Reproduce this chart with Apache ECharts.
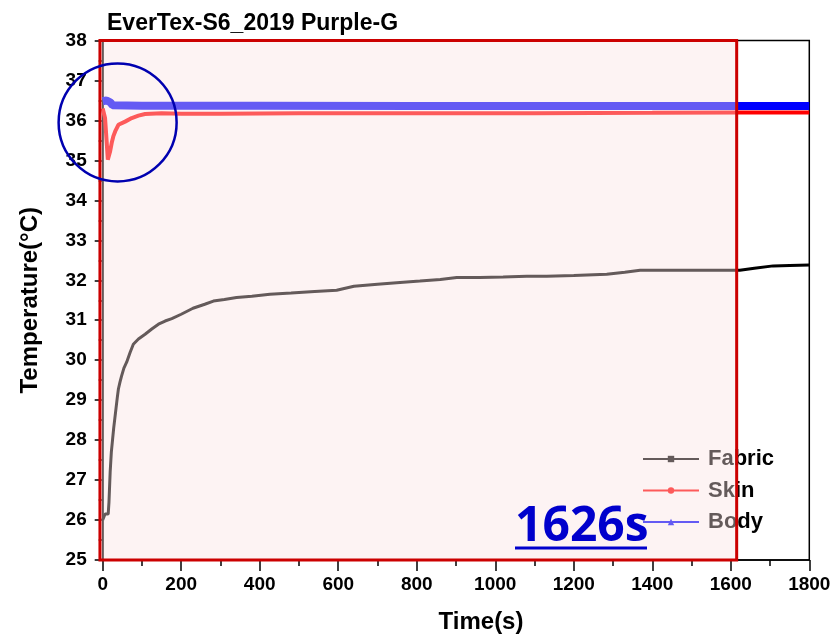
<!DOCTYPE html>
<html><head><meta charset="utf-8">
<script src="https://cdn.jsdelivr.net/npm/echarts@6/dist/echarts.min.js"></script>
<style>html,body{margin:0;padding:0;background:#fff}#c{width:834px;height:639px}</style>
</head><body><div id="c"></div>
<script>
const titleText = 'EverTex-S6_2019 Purple-G';
const seriesNames = ['Fabric', 'Skin', 'Body'];
const xTicks = [0, 200, 400, 600, 800, 1000, 1200, 1400, 1600, 1800];
const yTicks = [25, 26, 27, 28, 29, 30, 31, 32, 33, 34, 35, 36, 37, 38];

const fabricTime = [0, 3, 6, 10, 14, 16, 19, 22, 25, 28, 31, 34, 37, 40, 44, 48, 54, 61, 70, 78, 91, 108, 125, 142, 159, 176, 200, 230, 260, 282, 310, 341, 380, 426, 480, 540, 596, 640, 700, 749, 808, 860, 902, 960, 1020, 1080, 1131, 1200, 1284, 1330, 1369, 1450, 1539, 1623, 1660, 1708, 1750, 1800];
const fabricTemp = [26.0, 26.05, 26.15, 26.15, 26.15, 26.45, 27.2, 27.7, 28.0, 28.3, 28.55, 28.8, 29.05, 29.28, 29.45, 29.6, 29.8, 29.95, 30.2, 30.4, 30.53, 30.65, 30.78, 30.9, 30.98, 31.04, 31.15, 31.3, 31.4, 31.48, 31.52, 31.57, 31.6, 31.65, 31.68, 31.72, 31.75, 31.85, 31.9, 31.94, 31.98, 32.02, 32.07, 32.07, 32.08, 32.1, 32.1, 32.12, 32.15, 32.2, 32.25, 32.25, 32.25, 32.25, 32.3, 32.36, 32.37, 32.38];

const skinTime = [0, 3, 6, 10, 13, 16, 19, 23, 27, 32, 40, 57, 74, 91, 108, 150, 200, 300, 500, 800, 1100, 1400, 1620, 1800];
const skinTemp = [36.3, 36.35, 36.06, 35.48, 35.02, 35.0, 35.23, 35.44, 35.6, 35.73, 35.89, 35.97, 36.06, 36.12, 36.16, 36.18, 36.17, 36.17, 36.18, 36.18, 36.18, 36.19, 36.2, 36.2];

const bodyTime = [0, 5, 10, 15, 20, 25, 100, 400, 800, 1200, 1600, 1800];
const bodyTemp = [36.48, 36.48, 36.5, 36.5, 36.45, 36.38, 36.37, 36.37, 36.36, 36.36, 36.36, 36.36];

const annotationText = '1626s';

const pair = (ts, vs) => ts.map((t, i) => [t, vs[i]]);
const FONT = "'Liberation Sans', Arial, sans-serif";

const chart = echarts.init(document.getElementById('c'), null, {renderer: 'canvas'});
const option = {
  animation: false,
  backgroundColor: '#ffffff',
  title: {
    text: titleText, left: 102, top: 7,
    textStyle: {fontFamily: FONT, fontWeight: 'bold', fontSize: 23, color: '#000'}
  },
  grid: {left: 102.7, right: 24.7, top: 40.5, bottom: 77.5, show: true, borderColor: '#000', borderWidth: 1.5, backgroundColor: 'transparent'},
  legend: {
    orient: 'vertical', left: 637, top: 443, itemWidth: 56, itemHeight: 8, itemGap: 9.5,
    data: seriesNames,
    textStyle: {fontFamily: FONT, fontWeight: 'bold', fontSize: 22, color: '#000', padding: [0, 0, 0, 4]}
  },
  xAxis: {
    type: 'value', min: xTicks[0], max: xTicks[xTicks.length - 1], interval: 200,
    name: 'Time(s)', nameLocation: 'middle', nameGap: 50,
    nameTextStyle: {fontFamily: FONT, fontWeight: 'bold', fontSize: 24, color: '#000', padding: [0, 0, 0, 50]},
    axisLine: {show: true, lineStyle: {color: '#000', width: 1.5}},
    axisTick: {show: true, length: 11, lineStyle: {color: '#000', width: 1.5}},
    minorTick: {show: true, splitNumber: 2, length: 6, lineStyle: {color: '#000', width: 1.5}},
    axisLabel: {fontFamily: FONT, fontWeight: 'bold', fontSize: 19, color: '#000', margin: 15, formatter: v => String(v)},
    splitLine: {show: false}
  },
  yAxis: {
    type: 'value', min: yTicks[0], max: yTicks[yTicks.length - 1], interval: 1,
    name: 'Temperature(°C)', nameLocation: 'middle', nameGap: 60,
    nameTextStyle: {fontFamily: FONT, fontWeight: 'bold', fontSize: 24, color: '#000'},
    axisLine: {show: true, lineStyle: {color: '#000', width: 1.5}},
    axisTick: {show: true, length: 8, lineStyle: {color: '#000', width: 1.5}},
    minorTick: {show: true, splitNumber: 2, length: 4, lineStyle: {color: '#000', width: 1.5}},
    axisLabel: {fontFamily: FONT, fontWeight: 'bold', fontSize: 19, color: '#000', margin: 16, formatter: v => String(v)},
    splitLine: {show: false}
  },
  series: [
    {name: seriesNames[0], type: 'line', data: pair(fabricTime, fabricTemp), symbol: 'rect', symbolSize: 5, showSymbol: false,
     lineStyle: {color: '#000', width: 3}, itemStyle: {color: '#000'}},
    {name: seriesNames[1], type: 'line', data: pair(skinTime, skinTemp), symbol: 'circle', symbolSize: 3, showSymbol: false,
     lineStyle: {color: '#ff0000', width: 4}, itemStyle: {color: '#ff0000'}},
    {name: seriesNames[2], type: 'line', data: pair(bodyTime, bodyTemp), symbol: 'triangle', symbolSize: 6, showSymbol: false,
     lineStyle: {color: '#0000ff', width: 8}, itemStyle: {color: '#0000ff'}}
  ]
};
chart.setOption(option);

const pTL = chart.convertToPixel({gridIndex: 0}, [-7, 38]);
const pBR = chart.convertToPixel({gridIndex: 0}, [1615, 25]);
const pC = chart.convertToPixel({gridIndex: 0}, [38, 35.95]);
chart.setOption({
  graphic: [
    {type: 'rect', z: 100, shape: {x: pTL[0], y: pTL[1], width: pBR[0] - pTL[0], height: pBR[1] - pTL[1]},
     style: {fill: 'rgba(250,225,225,0.4)', stroke: '#cc0000', lineWidth: 3}},
    {type: 'circle', z: 101, shape: {cx: pC[0], cy: pC[1], r: 59},
     style: {fill: 'none', stroke: '#0000b0', lineWidth: 2.5}},
    {type: 'text', z: 102, x: 515, y: 527,
     style: {text: annotationText, fontFamily: "'Open Sans', 'Noto Sans', sans-serif", fontWeight: 'bold', fontSize: 48, fill: '#0000cc', textVerticalAlign: 'middle', textAlign: 'left'}},
    {type: 'rect', z: 102, shape: {x: 515, y: 546.5, width: 132, height: 3}, style: {fill: '#0000cc'}}
  ]
});
</script>
</body></html>
